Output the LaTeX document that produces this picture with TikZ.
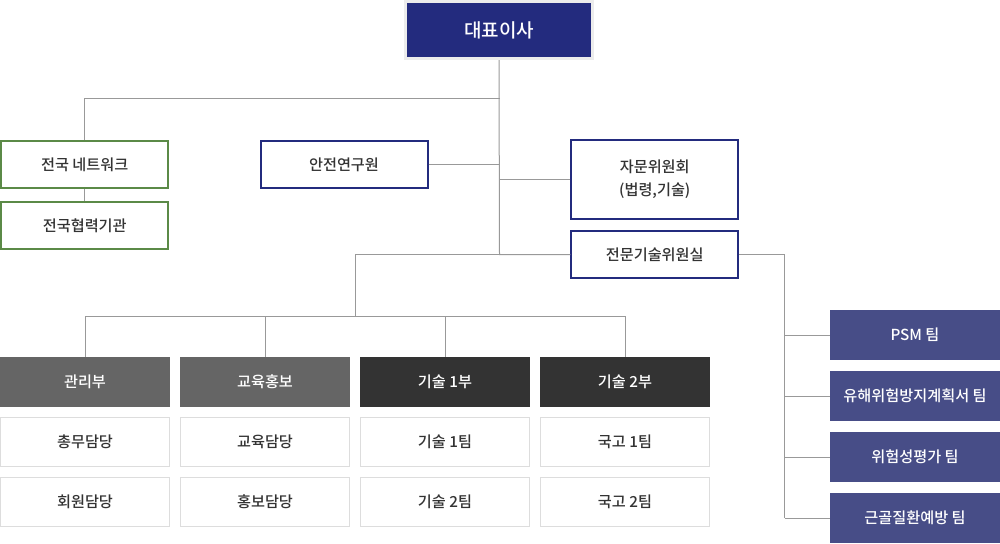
\documentclass[tikz,border=0pt]{standalone}
\usepackage{fontspec}
\setmainfont{Noto Sans CJK KR}
\newfontfamily\kr{Noto Sans CJK KR Medium}
\definecolor{navy}{HTML}{232B7E}
\definecolor{team}{HTML}{474D87}
\definecolor{green}{HTML}{5B8A47}
\definecolor{deptA}{HTML}{656565}
\definecolor{deptB}{HTML}{333333}
\definecolor{txt}{HTML}{333333}
\definecolor{conn}{HTML}{999999}
\definecolor{subb}{HTML}{DDDDDD}
\definecolor{ceob}{HTML}{ECECEC}
\tikzset{
  base/.style={inner sep=0pt, align=center, font=\kr\fontsize{11.4pt}{17pt}\selectfont},
  ceobox/.style={base, fill=navy, draw=ceob, line width=2.25pt, text=white,
     minimum width=140.25pt, minimum height=42.75pt, font=\kr\fontsize{14.25pt}{16pt}\selectfont},
  greenbox/.style={base, draw=green, line width=1.5pt, fill=white, text=txt,
     minimum width=125.25pt, minimum height=35.25pt},
  navybox/.style={base, draw=navy, line width=1.5pt, fill=white, text=txt,
     minimum width=125.25pt, minimum height=35.25pt},
  deptbox/.style={base, text=white, minimum width=127.5pt, minimum height=37.5pt},
  subbox/.style={base, draw=subb, line width=0.75pt, fill=white, text=txt,
     minimum width=126.75pt, minimum height=36.75pt},
  teambox/.style={base, fill=team, text=white, minimum width=127.5pt, minimum height=37.5pt},
  conline/.style={draw=conn, line width=0.75pt},
}
\begin{document}
\begin{tikzpicture}[x=0.75pt, y=-0.75pt]
\useasboundingbox (0,0) rectangle (1000,543);
% nodes
\node[ceobox] (ceo) at (499,30) {대표이사};
\node[greenbox] (net) at (84.75,164.75) {전국 네트워크};
\node[greenbox] (coop) at (84.75,225.5) {전국협력기관};
\node[navybox] (lab) at (344,164.75) {안전연구원};
\node[navybox, minimum height=59.25pt] (adv) at (654.75,179.5) {자문위원회\\(법령,기술)};
\node[navybox] (tech) at (654.75,254.5) {전문기술위원실};

\node[deptbox, fill=deptA] (d1) at (85,382) {관리부};
\node[deptbox, fill=deptA] (d2) at (265,382) {교육홍보};
\node[deptbox, fill=deptB] (d3) at (445,382) {기술 1부};
\node[deptbox, fill=deptB] (d4) at (625,382) {기술 2부};

\node[subbox] (s11) at (85,442) {총무담당};
\node[subbox] (s12) at (85,502) {회원담당};
\node[subbox] (s21) at (265,442) {교육담당};
\node[subbox] (s22) at (265,502) {홍보담당};
\node[subbox] (s31) at (445,442) {기술 1팀};
\node[subbox] (s32) at (445,502) {기술 2팀};
\node[subbox] (s41) at (625,442) {국고 1팀};
\node[subbox] (s42) at (625,502) {국고 2팀};

\node[teambox] (t1) at (915,335) {PSM 팀};
\node[teambox] (t2) at (915,396) {유해위험방지계획서 팀};
\node[teambox] (t3) at (915,457) {위험성평가 팀};
\node[teambox] (t4) at (915,518) {근골질환예방 팀};

% coordinates
\coordinate (jtop) at (499.5,98);
\coordinate (jtech) at (499.5,254.5);
\coordinate (jl) at (355,254.5);
\coordinate (jd) at (355,316);
\coordinate (jr) at (784.5,254.5);
\coordinate (jrb) at (784.5,518);

% connectors
\draw[conline] (ceo.south) -- (jtech) -- (tech.west);
\draw[conline] (jtop) -- (jtop -| net.north) -- (net.north);
\draw[conline] (net.south) -- (coop.north);
\draw[conline] (lab.east) -- (lab.east -| jtop);
\draw[conline] (adv.west) -- (adv.west -| jtop);
\draw[conline] (jtech) -- (jl) -- (jd);
\draw[conline] (jd -| d1.north) -- (jd -| d4.north);
\foreach \d in {d1,d2,d3,d4} \draw[conline] (jd -| \d.north) -- (\d.north);
\draw[conline] (tech.east) -- (jr) -- (jrb);
\foreach \t in {t1,t2,t3,t4} \draw[conline] (jr |- \t.west) -- (\t.west);
\end{tikzpicture}
\end{document}
